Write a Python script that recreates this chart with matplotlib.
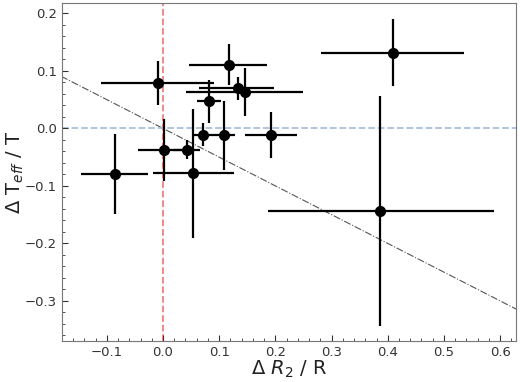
import numpy as np
import matplotlib.pyplot as plt

# data
dR = [-0.0095, 0.117, 0.133, 0.146, 0.082, 0.071, 0.109, 0.192, 0.002, 0.043, -0.085, 0.054, 0.410, 0.387]
dR_lo = [0.101, 0.071, 0.069, 0.105, 0.022, 0.018, 0.021, 0.046, 0.047, 0.025, 0.061, 0.071, 0.128, 0.201]
dR_hi = [0.101, 0.068, 0.064, 0.103, 0.021, 0.016, 0.020, 0.047, 0.040, 0.023, 0.059, 0.072, 0.126, 0.202]
dT = [0.079, 0.111, 0.070, 0.063, 0.047, -0.011, -0.012, -0.012, -0.038, -0.037, -0.079, -0.078, 0.132, -0.143]
dT_err = [0.038, 0.036, 0.020, 0.042, 0.038, 0.020, 0.060, 0.040, 0.054, 0.016, 0.070, 0.112, 0.059, 0.200]
slope = -0.5

fig = plt.figure(figsize=(5.2, 3.82), dpi=100)
ax = fig.add_axes([0.119, 0.107, 0.873, 0.885])

xline = np.array([-0.2, 0.7])
ax.plot(xline, slope * xline, color='#555555', linestyle='-.', linewidth=0.8, zorder=1)
ax.axvline(0, color='#f08080', linestyle='--', linewidth=1.3, zorder=1)
ax.axhline(0, color='#a8c0dc', linestyle='--', linewidth=1.3, zorder=1)

ax.errorbar(dR, dT, xerr=[dR_lo, dR_hi], yerr=dT_err, fmt='o', color='black',
            ms=7, elinewidth=1.6, capsize=0, zorder=3)

ax.set_xlim(-0.18, 0.628)
ax.set_ylim(-0.37, 0.218)
ax.set_xticks([-0.1, 0.0, 0.1, 0.2, 0.3, 0.4, 0.5, 0.6])
ax.set_yticks([-0.3, -0.2, -0.1, 0.0, 0.1, 0.2])
ax.minorticks_on()
ax.tick_params(which='both', direction='in', colors='#333333', labelcolor='#333333', labelsize=9.5)
ax.tick_params(which='major', length=4)
ax.tick_params(which='minor', length=2.5)
for s in ax.spines.values():
    s.set_color('#777777')

ax.set_xlabel(r'$\Delta$ $R_2$ / R', fontsize=14, color='#222222', labelpad=0)
ax.set_ylabel(r'$\Delta$ T$_{eff}$ / T', fontsize=14, color='#222222', labelpad=-1)

fig.savefig('out.png', dpi=100)
